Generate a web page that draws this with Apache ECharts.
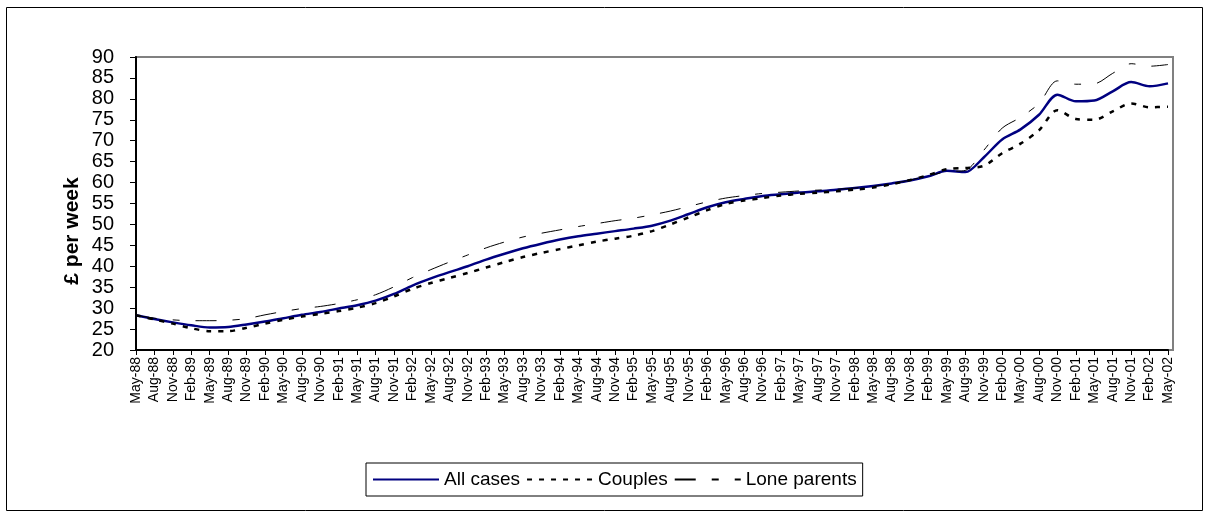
<!DOCTYPE html>
<html>
<head>
<meta charset="utf-8">
<script src="https://cdn.jsdelivr.net/npm/echarts@6/dist/echarts.min.js"></script>
<style>
html,body{margin:0;padding:0;background:#fff;}
#chart{width:1209px;height:518px;}
</style>
</head>
<body>
<div id="chart"></div>
<script>
var categories = [
  'May-88','Aug-88','Nov-88','Feb-89','May-89','Aug-89','Nov-89','Feb-90','May-90','Aug-90','Nov-90',
  'Feb-91','May-91','Aug-91','Nov-91','Feb-92','May-92','Aug-92','Nov-92','Feb-93','May-93','Aug-93','Nov-93',
  'Feb-94','May-94','Aug-94','Nov-94','Feb-95','May-95','Aug-95','Nov-95','Feb-96','May-96','Aug-96','Nov-96',
  'Feb-97','May-97','Aug-97','Nov-97','Feb-98','May-98','Aug-98','Nov-98','Feb-99','May-99','Aug-99','Nov-99',
  'Feb-00','May-00','Aug-00','Nov-00','Feb-01','May-01','Aug-01','Nov-01','Feb-02','May-02'
];
var allCases = [
  28.3, 27.4, 26.6, 25.9, 25.4, 25.5, 26.1, 26.8, 27.6, 28.4, 29.1,
  29.9, 30.7, 31.8, 33.4, 35.4, 37.1, 38.6, 40.0, 41.6, 43.0, 44.3, 45.4,
  46.4, 47.2, 47.8, 48.4, 49.0, 49.7, 50.9, 52.5, 54.1, 55.3, 56.1, 56.8,
  57.2, 57.6, 57.9, 58.3, 58.7, 59.2, 59.8, 60.5, 61.5, 62.8, 62.5, 66.0,
  70.3, 72.7, 76.2, 81.0, 79.4, 79.6, 81.8, 84.0, 83.0, 83.7
];
var couples = [
  28.3, 27.3, 26.3, 25.2, 24.5, 24.5, 25.3, 26.3, 27.2, 28.0, 28.6,
  29.3, 30.1, 31.2, 32.8, 34.6, 36.0, 37.2, 38.4, 39.7, 41.0, 42.2, 43.2,
  44.1, 45.0, 45.9, 46.6, 47.3, 48.4, 50.0, 51.7, 53.4, 54.9, 55.7, 56.3,
  56.9, 57.3, 57.6, 57.9, 58.3, 58.8, 59.6, 60.6, 61.8, 63.2, 63.5, 64.0,
  67.0, 69.3, 72.5, 77.3, 75.2, 75.0, 77.0, 78.9, 78.0, 78.1
];
var loneParents = [
  28.3, 27.6, 27.2, 27.0, 27.0, 27.1, 27.5, 28.4, 29.2, 29.9, 30.4,
  31.1, 32.0, 33.2, 35.1, 37.3, 39.2, 41.0, 42.7, 44.4, 45.8, 47.0, 47.9,
  48.7, 49.5, 50.2, 50.9, 51.5, 52.3, 53.2, 54.3, 55.4, 56.3, 56.9, 57.4,
  57.7, 58.0, 58.2, 58.4, 58.7, 59.1, 59.7, 60.6, 61.6, 62.6, 62.9, 67.7,
  73.0, 75.6, 78.9, 84.3, 83.5, 83.6, 86.1, 88.4, 87.8, 88.2
];
var seriesNames = ['All cases', 'Couples', 'Lone parents'];
var yAxisTitle = '£ per week';

var FONT = '"Liberation Sans", Arial, sans-serif';
var chart = echarts.init(document.getElementById('chart'), null, {renderer: 'canvas'});
chart.setOption({
  animation: false,
  backgroundColor: '#fff',
  grid: {left: 136, top: 57, right: 41, bottom: 168, containLabel: false},
  graphic: [
    {type: 'rect', shape: {x: 6.5, y: 7.5, width: 1196, height: 503}, style: {fill: null, stroke: '#000', lineWidth: 1}, z: -10},
    {type: 'rect', shape: {x: 136, y: 57, width: 1037, height: 293}, style: {fill: null, stroke: '#808080', lineWidth: 2}, z: -5},
    {type: 'text', x: 72, y: 231, rotation: Math.PI / 2,
      style: {text: yAxisTitle, font: 'bold 21px ' + FONT, fill: '#000', textAlign: 'center', textVerticalAlign: 'middle'}}
  ],
  legend: {
    left: 366, top: 463,
    data: seriesNames,
    orient: 'horizontal',
    itemWidth: 66, itemHeight: 14, itemGap: 6,
    padding: [7, 6, 7, 6],
    borderColor: '#000', borderWidth: 1,
    itemStyle: {opacity: 0, borderWidth: 0},
    textStyle: {fontFamily: FONT, fontSize: 19, color: '#000'},
    selectedMode: false
  },
  xAxis: {
    type: 'category',
    data: categories,
    boundaryGap: false,
    axisLine: {show: true, lineStyle: {color: '#000', width: 2}},
    axisTick: {show: true, interval: 0, length: 5, lineStyle: {color: '#000', width: 1}},
    axisLabel: {interval: 0, rotate: 90, margin: 7, fontFamily: FONT, fontSize: 14, color: '#000'},
    splitLine: {show: false}
  },
  yAxis: {
    type: 'value',
    min: 20, max: 90, interval: 5,
    axisLine: {show: true, lineStyle: {color: '#000', width: 2}},
    axisTick: {show: true, length: 6, lineStyle: {color: '#000', width: 1}},
    axisLabel: {margin: 22, fontFamily: FONT, fontSize: 20, color: '#000'},
    splitLine: {show: false}
  },
  series: [
    {name: seriesNames[0], type: 'line', data: allCases, smooth: 0.3, symbol: 'none', showSymbol: false,
      color: '#000080', lineStyle: {color: '#000080', width: 2.5}},
    {name: seriesNames[1], type: 'line', data: couples, smooth: 0.3, symbol: 'none', showSymbol: false,
      color: '#000', lineStyle: {color: '#000', width: 2.5, type: [5, 7]}},
    {name: seriesNames[2], type: 'line', data: loneParents, smooth: 0.3, symbol: 'none', showSymbol: false,
      color: '#000', lineStyle: {color: '#000', width: 1, type: [21, 16, 7, 16]}}
  ]
});
</script>
</body>
</html>
